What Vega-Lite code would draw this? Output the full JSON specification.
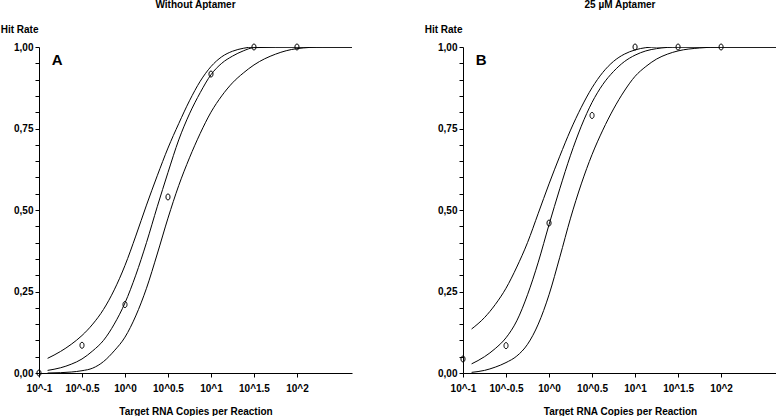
{
  "$schema": "https://vega.github.io/schema/vega-lite/v6.json",
  "padding": {"left": 0, "top": 0, "right": 0, "bottom": 0},
  "background": "white",
  "spacing": 72,
  "config": {
    "font": "Liberation Sans",
    "view": {"stroke": null},
    "axis": {
      "domainColor": "black", "tickColor": "black", "labelColor": "black", "titleColor": "black",
      "labelFont": "Liberation Sans", "labelFontWeight": "bold", "labelFontSize": 10,
      "titleFont": "Liberation Sans", "titleFontWeight": "bold", "titleFontSize": 10,
      "grid": false, "tickSize": 4, "domainWidth": 1, "tickWidth": 1, "labelFlush": false, "labelOverlap": false
    },
    "title": {"font": "Liberation Sans", "fontWeight": "bold", "fontSize": 10, "color": "black", "offset": 14}
  },
  "datasets": {
    "curves": [
      {"p":"A","s":"upper","x":-0.9,"y":0.045},{"p":"A","s":"upper","x":-0.75,"y":0.066},{"p":"A","s":"upper","x":-0.625,"y":0.088},{"p":"A","s":"upper","x":-0.5,"y":0.115},{"p":"A","s":"upper","x":-0.375,"y":0.15},{"p":"A","s":"upper","x":-0.25,"y":0.195},{"p":"A","s":"upper","x":-0.125,"y":0.255},{"p":"A","s":"upper","x":0,"y":0.33},{"p":"A","s":"upper","x":0.125,"y":0.42},{"p":"A","s":"upper","x":0.25,"y":0.515},{"p":"A","s":"upper","x":0.375,"y":0.605},{"p":"A","s":"upper","x":0.5,"y":0.69},{"p":"A","s":"upper","x":0.625,"y":0.765},{"p":"A","s":"upper","x":0.75,"y":0.835},{"p":"A","s":"upper","x":0.875,"y":0.895},{"p":"A","s":"upper","x":1.0,"y":0.94},{"p":"A","s":"upper","x":1.125,"y":0.97},{"p":"A","s":"upper","x":1.25,"y":0.987},{"p":"A","s":"upper","x":1.375,"y":0.996},{"p":"A","s":"upper","x":1.5,"y":1.0},{"p":"A","s":"upper","x":2.0,"y":1.0},{"p":"A","s":"upper","x":2.64,"y":1.0},
      {"p":"A","s":"mid","x":-0.9,"y":0.008},{"p":"A","s":"mid","x":-0.75,"y":0.016},{"p":"A","s":"mid","x":-0.625,"y":0.027},{"p":"A","s":"mid","x":-0.5,"y":0.043},{"p":"A","s":"mid","x":-0.375,"y":0.068},{"p":"A","s":"mid","x":-0.25,"y":0.1},{"p":"A","s":"mid","x":-0.125,"y":0.15},{"p":"A","s":"mid","x":0,"y":0.215},{"p":"A","s":"mid","x":0.125,"y":0.3},{"p":"A","s":"mid","x":0.25,"y":0.4},{"p":"A","s":"mid","x":0.375,"y":0.51},{"p":"A","s":"mid","x":0.5,"y":0.615},{"p":"A","s":"mid","x":0.625,"y":0.715},{"p":"A","s":"mid","x":0.75,"y":0.795},{"p":"A","s":"mid","x":0.875,"y":0.86},{"p":"A","s":"mid","x":1.0,"y":0.915},{"p":"A","s":"mid","x":1.125,"y":0.95},{"p":"A","s":"mid","x":1.25,"y":0.972},{"p":"A","s":"mid","x":1.375,"y":0.988},{"p":"A","s":"mid","x":1.5,"y":0.998},{"p":"A","s":"mid","x":2.0,"y":1.0},{"p":"A","s":"mid","x":2.64,"y":1.0},
      {"p":"A","s":"lower","x":-0.9,"y":0.0},{"p":"A","s":"lower","x":-0.75,"y":0.001},{"p":"A","s":"lower","x":-0.625,"y":0.003},{"p":"A","s":"lower","x":-0.5,"y":0.007},{"p":"A","s":"lower","x":-0.375,"y":0.015},{"p":"A","s":"lower","x":-0.25,"y":0.035},{"p":"A","s":"lower","x":-0.125,"y":0.068},{"p":"A","s":"lower","x":0,"y":0.11},{"p":"A","s":"lower","x":0.125,"y":0.175},{"p":"A","s":"lower","x":0.25,"y":0.26},{"p":"A","s":"lower","x":0.375,"y":0.365},{"p":"A","s":"lower","x":0.5,"y":0.475},{"p":"A","s":"lower","x":0.625,"y":0.575},{"p":"A","s":"lower","x":0.75,"y":0.66},{"p":"A","s":"lower","x":0.875,"y":0.735},{"p":"A","s":"lower","x":1.0,"y":0.8},{"p":"A","s":"lower","x":1.125,"y":0.85},{"p":"A","s":"lower","x":1.25,"y":0.89},{"p":"A","s":"lower","x":1.375,"y":0.92},{"p":"A","s":"lower","x":1.5,"y":0.945},{"p":"A","s":"lower","x":1.75,"y":0.978},{"p":"A","s":"lower","x":2.0,"y":0.995},{"p":"A","s":"lower","x":2.3,"y":1.0},{"p":"A","s":"lower","x":2.64,"y":1.0},
      {"p":"B","s":"upper","x":-0.9,"y":0.135},{"p":"B","s":"upper","x":-0.75,"y":0.17},{"p":"B","s":"upper","x":-0.625,"y":0.21},{"p":"B","s":"upper","x":-0.5,"y":0.26},{"p":"B","s":"upper","x":-0.375,"y":0.325},{"p":"B","s":"upper","x":-0.25,"y":0.4},{"p":"B","s":"upper","x":-0.125,"y":0.49},{"p":"B","s":"upper","x":0,"y":0.58},{"p":"B","s":"upper","x":0.125,"y":0.665},{"p":"B","s":"upper","x":0.25,"y":0.745},{"p":"B","s":"upper","x":0.375,"y":0.815},{"p":"B","s":"upper","x":0.5,"y":0.875},{"p":"B","s":"upper","x":0.625,"y":0.922},{"p":"B","s":"upper","x":0.75,"y":0.956},{"p":"B","s":"upper","x":0.875,"y":0.978},{"p":"B","s":"upper","x":1.0,"y":0.991},{"p":"B","s":"upper","x":1.125,"y":0.998},{"p":"B","s":"upper","x":1.25,"y":1.0},{"p":"B","s":"upper","x":1.5,"y":1.0},{"p":"B","s":"upper","x":2.0,"y":1.0},{"p":"B","s":"upper","x":2.65,"y":1.0},
      {"p":"B","s":"mid","x":-0.9,"y":0.028},{"p":"B","s":"mid","x":-0.75,"y":0.05},{"p":"B","s":"mid","x":-0.625,"y":0.075},{"p":"B","s":"mid","x":-0.5,"y":0.108},{"p":"B","s":"mid","x":-0.375,"y":0.16},{"p":"B","s":"mid","x":-0.25,"y":0.24},{"p":"B","s":"mid","x":-0.125,"y":0.34},{"p":"B","s":"mid","x":0,"y":0.455},{"p":"B","s":"mid","x":0.125,"y":0.565},{"p":"B","s":"mid","x":0.25,"y":0.668},{"p":"B","s":"mid","x":0.375,"y":0.757},{"p":"B","s":"mid","x":0.5,"y":0.83},{"p":"B","s":"mid","x":0.625,"y":0.885},{"p":"B","s":"mid","x":0.75,"y":0.925},{"p":"B","s":"mid","x":0.875,"y":0.955},{"p":"B","s":"mid","x":1.0,"y":0.975},{"p":"B","s":"mid","x":1.125,"y":0.988},{"p":"B","s":"mid","x":1.25,"y":0.995},{"p":"B","s":"mid","x":1.5,"y":1.0},{"p":"B","s":"mid","x":2.0,"y":1.0},{"p":"B","s":"mid","x":2.65,"y":1.0},
      {"p":"B","s":"lower","x":-0.9,"y":0.002},{"p":"B","s":"lower","x":-0.75,"y":0.008},{"p":"B","s":"lower","x":-0.625,"y":0.018},{"p":"B","s":"lower","x":-0.5,"y":0.032},{"p":"B","s":"lower","x":-0.375,"y":0.052},{"p":"B","s":"lower","x":-0.25,"y":0.088},{"p":"B","s":"lower","x":-0.125,"y":0.15},{"p":"B","s":"lower","x":0,"y":0.24},{"p":"B","s":"lower","x":0.125,"y":0.355},{"p":"B","s":"lower","x":0.25,"y":0.475},{"p":"B","s":"lower","x":0.375,"y":0.58},{"p":"B","s":"lower","x":0.5,"y":0.67},{"p":"B","s":"lower","x":0.625,"y":0.745},{"p":"B","s":"lower","x":0.75,"y":0.81},{"p":"B","s":"lower","x":0.875,"y":0.865},{"p":"B","s":"lower","x":1.0,"y":0.91},{"p":"B","s":"lower","x":1.125,"y":0.94},{"p":"B","s":"lower","x":1.25,"y":0.963},{"p":"B","s":"lower","x":1.375,"y":0.978},{"p":"B","s":"lower","x":1.5,"y":0.988},{"p":"B","s":"lower","x":1.75,"y":0.997},{"p":"B","s":"lower","x":2.0,"y":1.0},{"p":"B","s":"lower","x":2.65,"y":1.0}
    ],
    "points": [
      {"p":"A","x":-1,"y":0.0},{"p":"A","x":-0.5,"y":0.085},{"p":"A","x":0,"y":0.21},{"p":"A","x":0.5,"y":0.54},{"p":"A","x":1,"y":0.917},{"p":"A","x":1.5,"y":1.0},{"p":"A","x":2,"y":1.0},
      {"p":"B","x":-1,"y":0.043},{"p":"B","x":-0.5,"y":0.084},{"p":"B","x":0,"y":0.46},{"p":"B","x":0.5,"y":0.79},{"p":"B","x":1,"y":1.0},{"p":"B","x":1.5,"y":1.0},{"p":"B","x":2,"y":1.0}
    ],
    "letters": [
      {"p":"A","label":"A","x":-0.79,"y":0.96},
      {"p":"B","label":"B","x":-0.79,"y":0.96}
    ]
  },
  "hconcat": [
    {
      "title": {"text": "Without Aptamer"},
      "width": 313, "height": 326,
      "encoding": {
        "x": {"field": "x", "type": "quantitative", "scale": {"domain": [-1, 2.64], "nice": false, "zero": false},
          "axis": {"title": "Target RNA Copies per Reaction", "values": [-1,-0.5,0,0.5,1,1.5,2], "tickCount": 30, "labelExpr": "'10^' + datum.value", "titlePadding": 13, "labelPadding": 6, "labelOverlap": false, "labelFlush": false}},
        "y": {"field": "y", "type": "quantitative", "scale": {"domain": [0, 1], "nice": false},
          "axis": {"title": "Hit Rate", "titleAngle": 0, "titleAlign": "right", "titleX": -1, "titleY": -18, "titleBaseline": "middle",
            "tickCount": 40, "values": [0,0.05,0.1,0.15,0.2,0.25,0.3,0.35,0.4,0.45,0.5,0.55,0.6,0.65,0.7,0.75,0.8,0.85,0.9,0.95,1],
            "labelExpr": "(round(datum.value*100) == 0 || round(datum.value*100) == 25 || round(datum.value*100) == 50 || round(datum.value*100) == 75 || round(datum.value*100) == 100) ? replace(format(datum.value, '.2f'), '.', ',') : ''", "labelPadding": 2, "labelOverlap": false, "labelFlush": false}}
      },
      "layer": [
        {
          "data": {"name": "curves"},
          "transform": [{"filter": "datum.p === 'A'"}],
          "mark": {"type": "line", "color": "black", "strokeWidth": 1, "interpolate": "monotone", "clip": true},
          "encoding": {"detail": {"field": "s"}}
        },
        {
          "data": {"name": "points"},
          "transform": [{"filter": "datum.p === 'A'"}],
          "mark": {"type": "point", "shape": "M0,-1C0.9,-1 0.9,1 0,1C-0.9,1 -0.9,-1 0,-1Z", "size": 36, "stroke": "black", "strokeWidth": 1, "filled": false, "opacity": 1},
          "encoding": {}
        },
        {
          "data": {"name": "letters"},
          "transform": [{"filter": "datum.p === 'A'"}],
          "mark": {"type": "text", "fontSize": 15, "fontWeight": "bold", "font": "Liberation Sans", "color": "black", "align": "center", "baseline": "middle"},
          "encoding": {"text": {"field": "label"}}
        }
      ]
    },
    {
      "title": {"text": "25 µM Aptamer"},
      "width": 314, "height": 326,
      "encoding": {
        "x": {"field": "x", "type": "quantitative", "scale": {"domain": [-1, 2.65], "nice": false, "zero": false},
          "axis": {"title": "Target RNA Copies per Reaction", "values": [-1,-0.5,0,0.5,1,1.5,2], "tickCount": 30, "labelExpr": "'10^' + datum.value", "titlePadding": 13, "labelPadding": 6, "labelOverlap": false, "labelFlush": false}},
        "y": {"field": "y", "type": "quantitative", "scale": {"domain": [0, 1], "nice": false},
          "axis": {"title": "Hit Rate", "titleAngle": 0, "titleAlign": "right", "titleX": -1, "titleY": -18, "titleBaseline": "middle",
            "tickCount": 40, "values": [0,0.05,0.1,0.15,0.2,0.25,0.3,0.35,0.4,0.45,0.5,0.55,0.6,0.65,0.7,0.75,0.8,0.85,0.9,0.95,1],
            "labelExpr": "(round(datum.value*100) == 0 || round(datum.value*100) == 25 || round(datum.value*100) == 50 || round(datum.value*100) == 75 || round(datum.value*100) == 100) ? replace(format(datum.value, '.2f'), '.', ',') : ''", "labelPadding": 2, "labelOverlap": false, "labelFlush": false}}
      },
      "layer": [
        {
          "data": {"name": "curves"},
          "transform": [{"filter": "datum.p === 'B'"}],
          "mark": {"type": "line", "color": "black", "strokeWidth": 1, "interpolate": "monotone", "clip": true},
          "encoding": {"detail": {"field": "s"}}
        },
        {
          "data": {"name": "points"},
          "transform": [{"filter": "datum.p === 'B'"}],
          "mark": {"type": "point", "shape": "M0,-1C0.9,-1 0.9,1 0,1C-0.9,1 -0.9,-1 0,-1Z", "size": 36, "stroke": "black", "strokeWidth": 1, "filled": false, "opacity": 1},
          "encoding": {}
        },
        {
          "data": {"name": "letters"},
          "transform": [{"filter": "datum.p === 'B'"}],
          "mark": {"type": "text", "fontSize": 15, "fontWeight": "bold", "font": "Liberation Sans", "color": "black", "align": "center", "baseline": "middle"},
          "encoding": {"text": {"field": "label"}}
        }
      ]
    }
  ]
}
